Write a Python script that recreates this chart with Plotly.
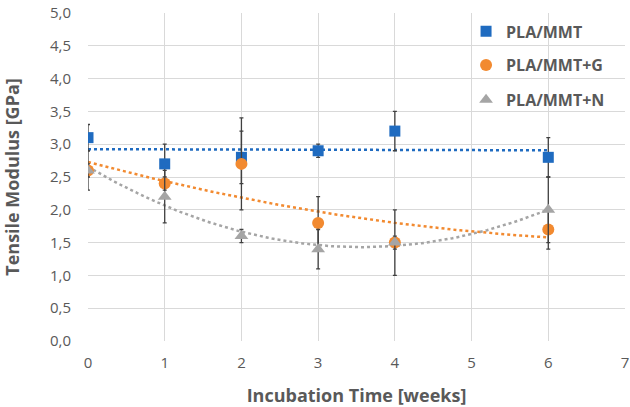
import numpy as np
import plotly.graph_objects as go

weeks = [0, 1, 2, 3, 4, 6]
mmt = [3.1, 2.7, 2.8, 2.9, 3.2, 2.8]
mmt_err = [0.2, 0.3, 0.4, 0.1, 0.3, 0.3]
mmt_g = [2.6, 2.4, 2.7, 1.8, 1.5, 1.7]
mmt_g_err = [0.3, 0.1, 0.7, 0.4, 0.5, 0.3]
mmt_n = [2.6, 2.2, 1.6, 1.4, 1.5, 2.0]
mmt_n_err = [0.1, 0.4, 0.1, 0.3, 0.1, 0.5]

names = ["PLA/MMT", "PLA/MMT+G", "PLA/MMT+N"]
colors = ["#1F6BC0", "#F28A30", "#A5A5A5"]
symbols = ["square", "circle", "triangle-up"]
sizes = [11, 12, 12]
fit_deg = [1, 2, 2]

series = [(mmt, mmt_err), (mmt_g, mmt_g_err), (mmt_n, mmt_n_err)]

FONT = "Open Sans"
GREY = "#595959"

fig = go.Figure()
xs = np.linspace(0, 6, 121)
for i, (vals, errs) in enumerate(series):
    coef = np.polyfit(weeks, vals, fit_deg[i])
    fig.add_trace(go.Scatter(
        x=xs, y=np.polyval(coef, xs), mode="lines",
        line=dict(color=colors[i], width=2.5, dash="dot"),
        showlegend=False, hoverinfo="skip"))
for i, (vals, errs) in enumerate(series):
    fig.add_trace(go.Scatter(
        x=weeks, y=vals, mode="markers", name=names[i],
        marker=dict(symbol=symbols[i], size=sizes[i], color=colors[i]),
        error_y=dict(type="data", array=errs, visible=True,
                     color="#404040", thickness=1.3, width=2),
        legend=["legend", "legend2", "legend3"][i]))

leg_common = dict(font=dict(family=FONT, size=16, color=GREY, weight="bold"),
                  bgcolor="rgba(0,0,0,0)", xanchor="left", yanchor="middle",
                  x=0.704, itemwidth=30)
fig.update_layout(
    width=630, height=407,
    margin=dict(l=88, r=5, t=13, b=66, autoexpand=False),
    paper_bgcolor="white", plot_bgcolor="white",
    separators=",.",
    font=dict(family=FONT, color=GREY),
    legend=dict(y=0.944, **leg_common),
    legend2=dict(y=0.841, **leg_common),
    legend3=dict(y=0.735, **leg_common),
    xaxis=dict(range=[0, 7], dtick=1, tick0=0, showgrid=True, gridcolor="#D9D9D9",
               zeroline=False, showline=False, ticks="", automargin=False,
               ticklabelstandoff=11, ticklabeloverflow="allow",
               tickfont=dict(family=FONT, size=15, color=GREY),
               title=dict(text="Incubation Time [weeks]", standoff=22,
                          font=dict(family=FONT, size=18, color=GREY, weight="bold"))),
    yaxis=dict(range=[0, 5], dtick=0.5, tick0=0, tickformat=".1f", showgrid=True,
               gridcolor="#D9D9D9", zeroline=False, showline=False, ticks="",
               ticklabelstandoff=16, automargin=False,
               tickfont=dict(family=FONT, size=15, color=GREY),
               title=dict(text="Tensile Modulus [GPa]", standoff=31,
                          font=dict(family=FONT, size=18, color=GREY, weight="bold"))),
)
fig.write_html("out.html", config={"displayModeBar": False},
               post_script="document.body.style.margin='0';document.body.style.overflow='hidden';")
